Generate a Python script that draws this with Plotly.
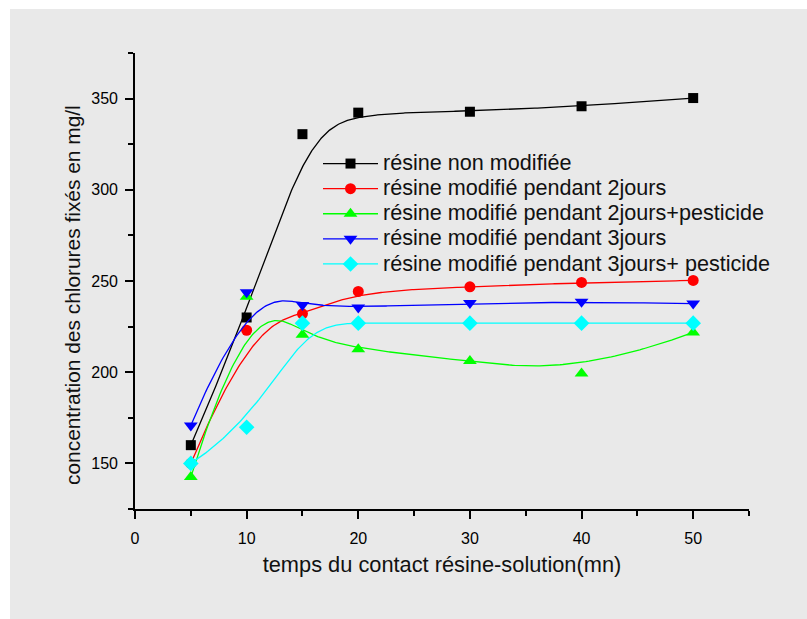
import numpy as np
import plotly.graph_objects as go

# contact time (min)
temps = [5, 10, 15, 20, 30, 40, 50]

# fixed chloride concentration (mg/l) for each resin
non_modifiee = [160, 230, 330.5, 342.3, 342.8, 345.8, 350.3]
modif_2j = [150, 223, 232, 244.3, 246.8, 249.2, 250.3]
modif_2j_pest = [142.5, 241.3, 220.5, 212.6, 206.1, 199.3, 221.8]
modif_3j = [170.8, 243.8, 236.8, 235.5, 237.9, 238.6, 237.6]
modif_3j_pest = [150, 169.8, 226.9, 226.9, 226.9, 226.9, 226.9]

noms = [
    "résine non modifiée",
    "résine modifié pendant 2jours",
    "résine modifié pendant 2jours+pesticide",
    "résine modifié pendant 3jours",
    "résine modifié pendant 3jours+ pesticide",
]
couleurs = ["#000000", "#ff0000", "#00ff00", "#0000ff", "#00ffff"]
symboles = ["square", "circle", "triangle-up", "triangle-down", "diamond"]
tailles = [10, 11, 12, 12, 12]

x_ticks = [0, 10, 20, 30, 40, 50]
y_ticks = [150, 200, 250, 300, 350]

FONT = "Liberation Sans, Arial, sans-serif"


def bspline(px, py, n=300):
    """Clamped cubic B-spline defined by the given control points."""
    px = np.asarray(px, float)
    py = np.asarray(py, float)
    k = 3
    m = len(px)
    inner = np.arange(1, m - k)
    knots = np.concatenate([np.zeros(k + 1), inner, np.full(k + 1, m - k)])
    ts = np.linspace(0, m - k, n)
    ts[-1] -= 1e-9

    def basis(i, d, t):
        if d == 0:
            return 1.0 if knots[i] <= t < knots[i + 1] else 0.0
        a = 0.0
        den1 = knots[i + d] - knots[i]
        if den1 > 0:
            a = (t - knots[i]) / den1 * basis(i, d - 1, t)
        b = 0.0
        den2 = knots[i + d + 1] - knots[i + 1]
        if den2 > 0:
            b = (knots[i + d + 1] - t) / den2 * basis(i + 1, d - 1, t)
        return a + b

    cx, cy = [], []
    for t in ts:
        w = np.array([basis(i, k, t) for i in range(m)])
        cx.append(float(w @ px))
        cy.append(float(w @ py))
    return cx, cy


series = [non_modifiee, modif_2j, modif_2j_pest, modif_3j, modif_3j_pest]

fig = go.Figure()
for nom, vals, col, sym, sz in zip(noms, series, couleurs, symboles, tailles):
    cx, cy = bspline(temps, vals)
    # smoothed curve
    fig.add_trace(go.Scatter(
        x=cx, y=cy, mode="lines", line=dict(color=col, width=1.3),
        legendgroup=nom, showlegend=False, hoverinfo="skip",
    ))
    # measured points
    fig.add_trace(go.Scatter(
        x=temps, y=vals, mode="markers", legendgroup=nom, showlegend=False,
        marker=dict(symbol=sym, size=sz, color=col, line=dict(width=0)),
    ))
    # legend entry (line + symbol)
    fig.add_trace(go.Scatter(
        x=[None], y=[None], mode="lines+markers", legendgroup=nom,
        name='<span style="font-size:21.6px">' + nom + "</span>",
        line=dict(color=col, width=1.3),
        marker=dict(symbol=sym, size=sz, color=col, line=dict(width=0)),
    ))

W, H = 807, 619
ML, MR, MT, MB = 135, 58, 53, 110
PW, PH = W - ML - MR, H - MT - MB

fig.update_layout(
    width=W, height=H,
    margin=dict(l=ML, r=MR, t=MT, b=MB),
    paper_bgcolor="#e9e9e9",
    plot_bgcolor="#e9e9e9",
    font=dict(family=FONT, color="black", size=16),
    showlegend=True,
    legend=dict(
        x=(318 - ML) / PW, y=(MT + PH - 146) / PH,
        xanchor="left", yanchor="top",
        bgcolor="rgba(0,0,0,0)",
        font=dict(size=17, family=FONT, color="#111111"),
        itemwidth=55,
        tracegroupgap=0,
    ),
    shapes=[
        dict(type="rect", xref="paper", yref="paper",
             x0=-ML / PW, x1=(10 - ML) / PW, y0=-MB / PH, y1=1 + MT / PH,
             fillcolor="white", line=dict(width=0), layer="below"),
        dict(type="rect", xref="paper", yref="paper",
             x0=-ML / PW, x1=1 + MR / PW, y0=1 + (MT - 9) / PH, y1=1 + MT / PH,
             fillcolor="white", line=dict(width=0), layer="below"),
    ],
    annotations=[
        dict(text="concentration des chlorures fixés en mg/l",
             textangle=-90, showarrow=False,
             xref="paper", yref="paper",
             x=(72 - ML) / PW, y=(MT + PH - 295) / PH,
             xanchor="center", yanchor="middle",
             font=dict(size=20.9, family=FONT, color="#111111")),
    ],
)

axis_common = dict(
    showgrid=False, zeroline=False, showline=True,
    linecolor="black", linewidth=1.6,
    ticks="outside", ticklen=8, tickwidth=1.6, tickcolor="black",
    tickfont=dict(size=16, family=FONT, color="black"),
    mirror=False,
)

fig.update_xaxes(
    range=[0, 55], tickvals=x_ticks, **axis_common,
    minor=dict(dtick=5, tick0=0, ticks="outside", ticklen=5,
               tickwidth=1.6, tickcolor="black"),
    ticklabelstandoff=6,
    title=dict(text="temps du contact résine-solution(mn)",
               font=dict(size=21.8, family=FONT, color="#111111"), standoff=11),
)
fig.update_yaxes(
    range=[125, 375], tickvals=y_ticks, **axis_common,
    minor=dict(dtick=25, tick0=125, ticks="outside", ticklen=5,
               tickwidth=1.6, tickcolor="black"),
    ticklabelstandoff=4,
)

fig.write_html("out.html")
